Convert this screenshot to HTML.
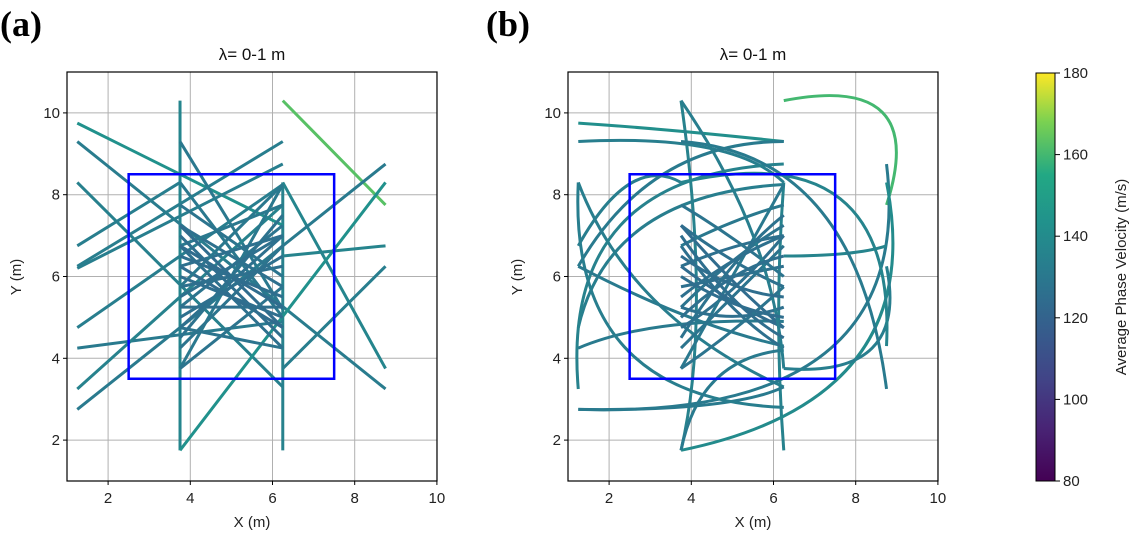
<!DOCTYPE html>
<html><head><meta charset="utf-8"><style>
body{margin:0;background:#fff;width:1130px;height:540px;overflow:hidden;font-family:"Liberation Sans",sans-serif}
</style></head><body>
<svg id="svg" width="1130" height="540" xmlns="http://www.w3.org/2000/svg">
<defs><linearGradient id="vir" x1="0" y1="1" x2="0" y2="0">
<stop offset="0" stop-color="#440154"/><stop offset="0.13" stop-color="#482475"/><stop offset="0.25" stop-color="#414487"/><stop offset="0.38" stop-color="#355f8d"/><stop offset="0.5" stop-color="#2a788e"/><stop offset="0.63" stop-color="#21918c"/><stop offset="0.75" stop-color="#22a884"/><stop offset="0.88" stop-color="#7ad151"/><stop offset="1" stop-color="#fde725"/>
</linearGradient></defs>
<text x="0" y="36" font-family="Liberation Serif" font-weight="bold" font-size="36">(a)</text>
<text x="486" y="36" font-family="Liberation Serif" font-weight="bold" font-size="36">(b)</text>
<g id="pa"></g><g id="pb"></g>
<rect x="1036" y="73" width="19" height="408" fill="url(#vir)" stroke="#000" stroke-width="1"/>
<g id="cb"></g>
<text transform="translate(1126,277) rotate(-90)" text-anchor="middle" font-size="15" fill="#222">Average Phase Velocity (m/s)</text>
</svg>
<script>
const xTicks=[2,4,6,8,10];
const yTicks=[2,4,6,8,10];
const cbTicks=[80,100,120,140,160,180];
// straight rays panel a: [x1,y1,x2,y2,velocity]
const raysA=[
[6.25,10.3,8.75,7.75,163],[3.75,10.3,3.75,1.75,137],[6.25,8.3,6.25,1.75,135],
[1.25,9.75,6.25,7.25,143],[1.25,9.3,8.75,3.25,132],[1.25,8.3,6.25,3.3,134],
[3.75,9.3,6.25,5.2,130],[6.25,8.3,8.75,3.75,137],[1.25,6.75,3.75,8.3,133],
[3.75,8.3,6.25,5.0,130],[1.25,6.25,6.25,9.3,133],[1.25,6.2,6.25,8.75,133],
[1.25,4.75,6.25,8.25,133],[1.25,4.25,6.25,4.9,131],[1.25,3.25,6.25,7.75,135],
[1.25,2.75,8.75,8.75,131],[3.75,1.75,8.75,8.3,143],[6.25,3.75,8.75,6.25,133],
[6.25,6.5,8.75,6.75,136],[3.75,6.75,6.25,4.25,126],[3.75,7.25,6.25,5.75,126],
[3.75,5.25,6.25,7.25,128],[3.75,4.75,6.25,7.0,126],[3.75,3.75,6.25,8.25,130],
[3.75,6.25,6.25,4.75,124],[3.75,5.75,6.25,6.25,126],[3.75,4.25,6.25,6.75,128],
[3.75,6.75,6.25,7.75,130],[3.75,5.25,6.25,5.25,126],[3.75,7.25,6.25,4.75,124],
[3.75,4.75,6.25,4.25,128],[3.75,6.25,6.25,7.0,126],[3.75,5.75,6.25,8.25,130],
[3.75,3.75,6.25,5.75,128],[3.75,6.75,6.25,5.25,124],[3.75,7.75,6.25,6.0,128],
[3.75,5.0,6.25,6.5,126],[3.75,6.5,6.25,5.5,125],[3.75,4.5,6.25,7.5,127],[3.75,7.0,6.25,4.5,125],
[3.75,5.5,6.25,7.0,126],[3.75,6.0,6.25,5.0,125]
];
// curved rays panel b: [x1,y1,cx,cy,x2,y2,velocity]
const raysB=[
[6.25,10.3,9.8,11.0,8.75,7.75,160],[6.25,9.3,3.5,9.6,1.25,9.75,142],[1.25,9.3,5,9.5,6.25,8.3,133],
[1.25,8.3,2.5,5,6.25,3.3,133],[3.75,10.3,4.5,5,3.75,1.75,135],[6.25,8.3,6,5,6.25,1.75,135],
[1.25,6.75,2.5,9,3.75,8.3,133],[1.25,6.25,3,9.3,6.25,9.3,131],[1.25,4.75,2,8,6.25,8.25,133],
[1.25,4.25,3,5,6.25,4.9,131],[1.25,3.25,0.8,8.5,6.25,8.75,135],[1.25,2.75,9.5,2.5,8.75,8.75,131],
[3.75,1.75,9.8,3,8.75,8.3,140],[6.25,3.75,9.3,3.5,8.75,6.25,133],[6.25,6.5,8,6.5,8.75,6.75,136],
[1.25,2.75,5,2.7,6.25,3.3,131],[1.25,8.3,1,3,6.25,2.8,133],[3.75,9.3,8,9,8.75,3.25,131],
[3.75,1.75,4.2,4,6.25,4.2,131],[1.25,6.25,4,4.8,6.25,4.3,131],[3.75,8.3,9,9.5,8.75,4.3,136],
[3.75,6.75,5,5,6.25,4.25,126],[3.75,7.25,5,6.3,6.25,5.75,126],[3.75,5.25,5,6.5,6.25,7.25,128],
[3.75,4.75,5,5.5,6.25,7.0,126],[3.75,3.75,5,6,6.25,8.25,130],[3.75,6.25,5,5.3,6.25,4.75,124],
[3.75,5.75,5,6,6.25,6.25,126],[3.75,4.25,5,5.5,6.25,6.75,128],[3.75,6.75,5,7.4,6.25,7.75,130],
[3.75,5.25,5,4.8,6.25,5.25,126],[3.75,7.25,5,5.8,6.25,4.75,124],[3.75,6.25,5,6.8,6.25,7.0,126],
[3.75,3.75,5,4.6,6.25,5.75,128],[3.75,7.75,5,7,6.25,6.0,128],[3.75,10.3,6,7,6.25,3.75,133],
[3.75,5.0,5,6.2,6.25,6.5,126],[3.75,6.5,5,5.6,6.25,5.5,125],[3.75,4.5,5,6.5,6.25,7.5,127],
[3.75,7.0,5,5.2,6.25,4.5,125],[3.75,5.5,5,6.5,6.25,7.0,126],[3.75,6.0,5,5.2,6.25,5.0,125]
];
const NS='http://www.w3.org/2000/svg';
const svg=document.getElementById('svg');
const stops=[[0,[68,1,84]],[0.13,[72,36,117]],[0.25,[65,68,135]],[0.38,[53,95,141]],[0.5,[42,120,142]],[0.63,[33,145,140]],[0.75,[34,168,132]],[0.88,[122,209,81]],[1,[253,231,37]]];
function vcol(v){let t=Math.max(0,Math.min(1,(v-80)/100));for(let i=1;i<stops.length;i++){if(t<=stops[i][0]){const a=stops[i-1],b=stops[i],f=(t-a[0])/(b[0]-a[0]);return 'rgb('+a[1].map((c,k)=>Math.round(c+(b[1][k]-c)*f)).join(',')+')';}}return 'rgb(253,231,37)';}
function mk(tag,attrs,parent){const e=document.createElementNS(NS,tag);for(const k in attrs)e.setAttribute(k,attrs[k]);parent.appendChild(e);return e;}
function panel(gid,x0,rays,curved){
  const g=document.getElementById(gid);
  const sx=x=>x0+(x-1)*41.1, sy=y=>481-(y-1)*40.9;
  xTicks.forEach(t=>{const l=mk('line',{x1:sx(t),x2:sx(t),y1:72,y2:481,stroke:'#b0b0b0','stroke-width':1},g);
    
    
    mk('line',{x1:sx(t),x2:sx(t),y1:481,y2:485,stroke:'#000'},g);
    const tx=mk('text',{x:sx(t),y:503,'text-anchor':'middle','font-size':15,fill:'#222'},g);tx.textContent=t;
    
    });
  yTicks.forEach(t=>{const l=mk('line',{x1:x0,x2:x0+370,y1:sy(t),y2:sy(t),stroke:'#b0b0b0','stroke-width':1},g);
    
    
    mk('line',{x1:x0-4,x2:x0,y1:sy(t),y2:sy(t),stroke:'#000'},g);
    const tx=mk('text',{x:x0-7,y:sy(t)+5,'text-anchor':'end','font-size':15,fill:'#222'},g);tx.textContent=t;
    
    });
  rays.forEach(r=>{let e;
    if(curved){e=mk('path',{d:`M${sx(r[0])},${sy(r[1])} Q${sx(r[2])},${sy(r[3])} ${sx(r[4])},${sy(r[5])}`,fill:'none',stroke:vcol(r[6]),'stroke-width':3},g);}
    else{e=mk('line',{x1:sx(r[0]),y1:sy(r[1]),x2:sx(r[2]),y2:sy(r[3]),stroke:vcol(r[4]),'stroke-width':3},g);}
    
    });
  const b=mk('rect',{x:sx(2.5),y:sy(8.5),width:sx(7.5)-sx(2.5),height:sy(3.5)-sy(8.5),fill:'none',stroke:'#0000ff','stroke-width':2.5},g);
  
  
  const f=mk('rect',{x:x0,y:72,width:370,height:409,fill:'none',stroke:'#000','stroke-width':1.2},g);
  
  
  const ti=mk('text',{x:x0+185,y:60,'text-anchor':'middle','font-size':17,fill:'#111'},g);ti.textContent='λ= 0-1 m';
  
  
  const xl=mk('text',{x:x0+185,y:527,'text-anchor':'middle','font-size':15,fill:'#222'},g);xl.textContent='X (m)';
  
  
  const yl=mk('text',{transform:`translate(${x0-46},277) rotate(-90)`,'text-anchor':'middle','font-size':15,fill:'#222'},g);yl.textContent='Y (m)';
  
  
}
panel('pa',67,raysA,false);
panel('pb',568,raysB,true);
const cb=document.getElementById('cb');
cbTicks.forEach(t=>{const y=481-(t-80)/100*408;
  mk('line',{x1:1055,x2:1060,y1:y,y2:y,stroke:'#000'},cb);
  const tx=mk('text',{x:1063,y:y+5,'font-size':15,fill:'#222'},cb);tx.textContent=t;
  
  });
</script>
</body></html>
